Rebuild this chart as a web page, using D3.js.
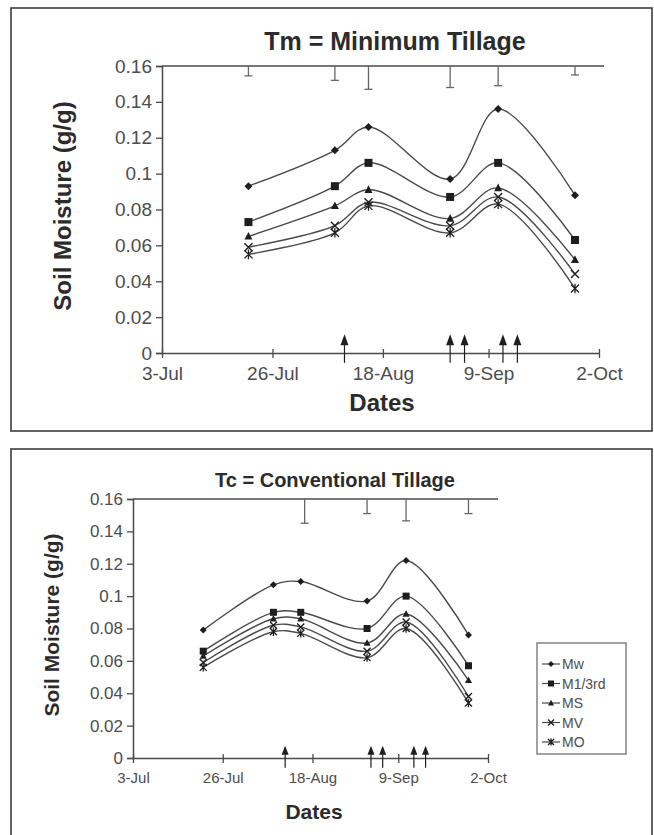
<!DOCTYPE html>
<html><head><meta charset="utf-8">
<script src="https://cdn.jsdelivr.net/npm/d3@7"></script>
<style>
html,body{margin:0;padding:0;background:#fff;}
svg{display:block;font-family:"Liberation Sans",Arial,sans-serif;}
</style></head><body>
<svg id="chart" width="654" height="835"></svg>
<script>
// ---- shared categories and axis ticks ----
const seriesNames = ["Mw", "M1/3rd", "MS", "MV", "MO"];
const markerTypes = ["diamond", "square", "triangle", "x", "star"];
const sampleDates = ["2005-07-21", "2005-08-08", "2005-08-15", "2005-09-01", "2005-09-11", "2005-09-27"];
const xTickDates = ["2005-07-03", "2005-07-26", "2005-08-18", "2005-09-09", "2005-10-02"];
const yTickValues = [0, 0.02, 0.04, 0.06, 0.08, 0.1, 0.12, 0.14, 0.16];

// ---- Tm: minimum tillage, soil moisture (g/g) ----
const tmMw   = [0.093, 0.113, 0.126, 0.097, 0.136, 0.088];
const tmM13  = [0.073, 0.093, 0.106, 0.087, 0.106, 0.063];
const tmMS   = [0.065, 0.082, 0.091, 0.075, 0.092, 0.052];
const tmMV   = [0.059, 0.071, 0.084, 0.071, 0.087, 0.044];
const tmMO   = [0.055, 0.067, 0.082, 0.067, 0.083, 0.036];
const tmBarDates = ["2005-07-21", "2005-08-08", "2005-08-15", "2005-09-01", "2005-09-11", "2005-09-27"];
const tmBarLows  = [0.1545, 0.152, 0.147, 0.148, 0.149, 0.155];
const tmArrowDates = ["2005-08-10", "2005-09-01", "2005-09-04", "2005-09-12", "2005-09-15"];

// ---- Tc: conventional tillage, soil moisture (g/g) ----
const tcMw   = [0.079, 0.107, 0.109, 0.097, 0.122, 0.076];
const tcM13  = [0.066, 0.090, 0.090, 0.080, 0.100, 0.057];
const tcMS   = [0.063, 0.086, 0.086, 0.071, 0.089, 0.048];
const tcMV   = [0.059, 0.082, 0.081, 0.066, 0.084, 0.038];
const tcMO   = [0.056, 0.078, 0.077, 0.062, 0.080, 0.034];
const tcBarDates = ["2005-08-16", "2005-09-01", "2005-09-11", "2005-09-27"];
const tcBarLows  = [0.145, 0.151, 0.1465, 0.151];
const tcArrowDates = ["2005-08-11", "2005-09-02", "2005-09-05", "2005-09-13", "2005-09-16"];

const parse = d3.utcParse("%Y-%m-%d");
const fmt = d3.utcFormat("%-d-%b");
const svg = d3.select("#chart");

const LINE = "#4a4a4a", INK = "#1e1e1e", TEXT = "#4d4d4d", TITLE = "#2b2b2b";

function drawMarker(g, type, x, y, s) {
  if (type === "diamond") {
    g.append("path").attr("d", `M${x},${y - s}L${x + s},${y}L${x},${y + s}L${x - s},${y}Z`).attr("fill", INK);
  } else if (type === "square") {
    g.append("rect").attr("x", x - s).attr("y", y - s).attr("width", 2 * s).attr("height", 2 * s).attr("fill", INK);
  } else if (type === "triangle") {
    g.append("path").attr("d", `M${x},${y - s * 1.1}L${x + s},${y + s * 0.8}L${x - s},${y + s * 0.8}Z`).attr("fill", INK);
  } else if (type === "x") {
    g.append("path").attr("d", `M${x - s},${y - s}L${x + s},${y + s}M${x - s},${y + s}L${x + s},${y - s}`)
      .attr("stroke", INK).attr("stroke-width", 1.4).attr("fill", "none");
  } else {
    g.append("path").attr("d", `M${x - s},${y - s}L${x + s},${y + s}M${x - s},${y + s}L${x + s},${y - s}M${x},${y - s * 1.2}L${x},${y + s * 1.2}`)
      .attr("stroke", INK).attr("stroke-width", 1.3).attr("fill", "none");
  }
}

function drawPanel(o) {
  // frame around the figure
  svg.append("rect").attr("x", o.frame[0]).attr("y", o.frame[1])
    .attr("width", o.frame[2] - o.frame[0]).attr("height", o.frame[3] - o.frame[1])
    .attr("fill", "none").attr("stroke", "#3c3c3c").attr("stroke-width", 1.6);

  const x = d3.scaleUtc().domain([parse(xTickDates[0]), parse(xTickDates[xTickDates.length - 1])]).range([o.left, o.right]);
  const y = d3.scaleLinear().domain([0, 0.16]).range([o.bottom, o.top]);
  const g = svg.append("g");

  // y axis
  const ya = g.append("g").attr("transform", `translate(${o.left},0)`)
    .call(d3.axisLeft(y).tickValues(yTickValues).tickSize(6).tickPadding(o.yPad)
      .tickFormat(d => d === 0 ? "0" : String(+d.toFixed(2))));
  ya.select(".domain").attr("stroke", LINE).attr("stroke-width", 1.5);
  ya.selectAll(".tick line").attr("stroke", LINE).attr("stroke-width", 1.3);
  ya.selectAll("text").attr("fill", TEXT).attr("font-size", o.tickFont).attr("font-family", "Liberation Sans, Arial, sans-serif");

  // x axis
  const xa = g.append("g").attr("transform", `translate(0,${o.bottom})`)
    .call(d3.axisBottom(x).tickValues(xTickDates.map(parse)).tickFormat(fmt).tickSizeInner(5).tickSizeOuter(0).tickPadding(o.xPad));
  xa.select(".domain").attr("stroke", LINE).attr("stroke-width", 1.5);
  xa.selectAll(".tick line").attr("stroke", LINE).attr("stroke-width", 1.3).attr("y1", -4);
  xa.selectAll("text").attr("fill", TEXT).attr("font-size", o.xTickFont).attr("font-family", "Liberation Sans, Arial, sans-serif");

  // reference line at the top of the range with hanging error bars
  g.append("line").attr("x1", o.left).attr("x2", o.lineEnd)
    .attr("y1", y(0.16)).attr("y2", y(0.16)).attr("stroke", LINE).attr("stroke-width", 1.6);
  o.barDates.forEach((d, i) => {
    const bx = x(parse(d)), by = y(o.barLows[i]);
    g.append("line").attr("x1", bx).attr("x2", bx).attr("y1", y(0.16)).attr("y2", by).attr("stroke", "#666").attr("stroke-width", 1.3);
    g.append("line").attr("x1", bx - 4).attr("x2", bx + 4).attr("y1", by).attr("y2", by).attr("stroke", "#666").attr("stroke-width", 1.3);
  });

  // arrows standing on the date axis
  o.arrowDates.forEach(d => {
    const ax = x(parse(d));
    const tip = y(o.arrowTip), base = y(o.arrowBase);
    g.append("line").attr("x1", ax).attr("x2", ax).attr("y1", tip + 4).attr("y2", base).attr("stroke", INK).attr("stroke-width", 1.2);
    g.append("path").attr("d", `M${ax},${tip}L${ax + o.arrowW},${tip + o.arrowH}L${ax - o.arrowW},${tip + o.arrowH}Z`).attr("fill", INK);
  });

  // smoothed series with markers
  const line = d3.line().x(d => x(d[0])).y(d => y(d[1])).curve(d3.curveCatmullRom.alpha(0.5));
  o.series.forEach((vals, si) => {
    const pts = sampleDates.map((d, i) => [parse(d), vals[i]]);
    g.append("path").attr("d", line(pts)).attr("fill", "none").attr("stroke", LINE).attr("stroke-width", 1.4);
  });
  o.series.forEach((vals, si) => {
    sampleDates.forEach((d, i) => drawMarker(g, markerTypes[si], x(parse(d)), y(vals[i]), o.markerSize));
  });

  // titles
  svg.append("text").attr("x", o.titleX).attr("y", o.titleY).attr("text-anchor", "middle")
    .attr("font-size", o.titleFont).attr("font-weight", "bold").attr("fill", TITLE).text(o.title);
  svg.append("text").attr("x", o.xTitleX).attr("y", o.xTitleY).attr("text-anchor", "middle")
    .attr("font-size", o.axisTitleFont).attr("font-weight", "bold").attr("fill", TITLE).text("Dates");
  svg.append("text").attr("transform", `translate(${o.yTitleX},${o.yTitleY}) rotate(-90)`).attr("text-anchor", "middle")
    .attr("font-size", o.axisTitleFont).attr("font-weight", "bold").attr("fill", TITLE).text("Soil Moisture (g/g)");

  if (o.legend) {
    const L = o.legend;
    const lg = svg.append("g");
    lg.append("rect").attr("x", L.x).attr("y", L.y).attr("width", L.w).attr("height", L.h)
      .attr("fill", "#fff").attr("stroke", "#8a8a8a").attr("stroke-width", 1.6);
    seriesNames.forEach((name, i) => {
      const ly = L.y + L.first + i * L.step;
      lg.append("line").attr("x1", L.x + 5).attr("x2", L.x + 23).attr("y1", ly).attr("y2", ly).attr("stroke", LINE).attr("stroke-width", 1.2);
      drawMarker(lg, markerTypes[i], L.x + 14, ly, 3);
      lg.append("text").attr("x", L.x + 25).attr("y", ly + 5).attr("font-size", L.font).attr("fill", TEXT).text(name);
    });
  }
}

drawPanel({
  frame: [11, 8, 652, 431],
  left: 162, right: 599, top: 66, bottom: 353, lineEnd: 604,
  yPad: 4, xPad: 9, tickFont: 19, xTickFont: 19,
  title: "Tm = Minimum Tillage", titleX: 395, titleY: 50, titleFont: 25,
  xTitleX: 382, xTitleY: 411, yTitleX: 71, yTitleY: 206, axisTitleFont: 24,
  series: [tmMw, tmM13, tmMS, tmMV, tmMO], markerSize: 4,
  barDates: tmBarDates, barLows: tmBarLows,
  arrowDates: tmArrowDates, arrowTip: 0.0105, arrowBase: -0.0055, arrowW: 4, arrowH: 11
});

drawPanel({
  frame: [11, 449, 652, 842],
  left: 133, right: 488, top: 499, bottom: 758, lineEnd: 498,
  yPad: 4, xPad: 9, tickFont: 17, xTickFont: 15,
  title: "Tc = Conventional Tillage", titleX: 335, titleY: 487, titleFont: 20,
  xTitleX: 314, xTitleY: 819, yTitleX: 59, yTitleY: 625, axisTitleFont: 21,
  series: [tcMw, tcM13, tcMS, tcMV, tcMO], markerSize: 3.5,
  barDates: tcBarDates, barLows: tcBarLows,
  arrowDates: tcArrowDates, arrowTip: 0.0075, arrowBase: -0.006, arrowW: 3.5, arrowH: 9,
  legend: { x: 537, y: 643, w: 89, h: 111, first: 21, step: 19.5, font: 14 }
});
</script>
</body></html>
